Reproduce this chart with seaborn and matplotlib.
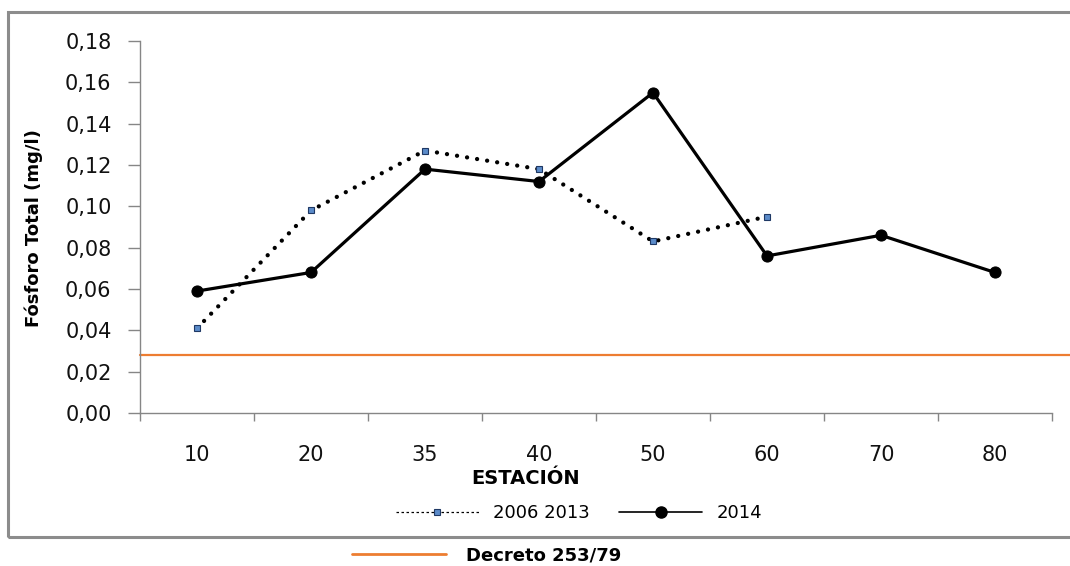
import numpy as np
import pandas as pd
import matplotlib
matplotlib.use("Agg")
import matplotlib.pyplot as plt
import seaborn as sns
from matplotlib.lines import Line2D
from matplotlib.patches import Rectangle
from matplotlib.ticker import FuncFormatter, FixedLocator

# ---- data ----
estaciones = ["10", "20", "35", "40", "50", "60", "70", "80"]
serie_2006_2013 = [0.041, 0.098, 0.127, 0.118, 0.083, 0.095, np.nan, np.nan]
serie_2014 = [0.059, 0.068, 0.118, 0.112, 0.155, 0.076, 0.086, 0.068]
decreto_253_79 = 0.028
y_ticks = [0.00, 0.02, 0.04, 0.06, 0.08, 0.10, 0.12, 0.14, 0.16, 0.18]

label_hist = "2006 2013"
label_2014 = "2014"
label_decreto = "Decreto 253/79"

sns.set_theme(style="white")
plt.rcParams["font.family"] = ["DejaVu Sans"]
plt.rcParams["text.color"] = "black"

fig = plt.figure(figsize=(10.70, 5.66), dpi=100)
ax = fig.add_axes([140/1070, 1-413/566, 912/1070, 372/566])

pos = np.arange(len(estaciones))
df = pd.DataFrame({"pos": pos, "hist": serie_2006_2013, "y2014": serie_2014})

gray = "#868686"

sns.lineplot(data=df.dropna(subset=["hist"]), x="pos", y="hist", ax=ax, color="black",
             linewidth=3.1, linestyle=(0, (0.01, 2.35)), dash_capstyle="round",
             marker="s", markersize=5, markerfacecolor="#5B8BC9",
             markeredgecolor="#1F3864", markeredgewidth=0.8, zorder=3)
sns.lineplot(data=df, x="pos", y="y2014", ax=ax, color="black", linewidth=2.3,
             marker="o", markersize=8, markerfacecolor="black",
             markeredgecolor="black", zorder=4)

ax.axhline(decreto_253_79, xmin=0, xmax=1.03, color="#ED7D31", linewidth=1.6,
           clip_on=False, zorder=2)

ax.set_xlim(-0.5, len(estaciones) - 0.5)
ax.set_ylim(0, 0.18)
ax.set_yticks(y_ticks)
ax.yaxis.set_major_formatter(FuncFormatter(lambda v, p: f"{v:.2f}".replace(".", ",")))
ax.set_xticks(pos)
ax.set_xticklabels(estaciones)
ax.xaxis.set_minor_locator(FixedLocator(np.arange(-0.5, len(estaciones), 1.0)))

for s in ["top", "right"]:
    ax.spines[s].set_visible(False)
for s in ["left", "bottom"]:
    ax.spines[s].set_color(gray)
    ax.spines[s].set_linewidth(1.0)

ax.tick_params(axis="y", which="major", direction="out", length=8.5, width=1,
               color=gray, pad=12, labelsize=15, labelcolor="#111111", left=True)
ax.tick_params(axis="x", which="major", length=0, pad=23, labelsize=15,
               labelcolor="#111111", bottom=True)
ax.tick_params(axis="x", which="minor", direction="out", length=6, width=1,
               color=gray, bottom=True)
ax.grid(False)

ax.set_xlabel("ESTACIÓN", fontweight="bold", fontsize=14, color="black")
ax.xaxis.set_label_coords((526-140)/912, (413-469)/372)
ax.set_ylabel("Fósforo Total (mg/l)", fontweight="bold", fontsize=13, color="black")
ax.yaxis.set_label_coords((43-140)/912, (413-228)/372)

# outer frame
fig.add_artist(Rectangle((8/1070, 1-537/566), 1.2, (537-12)/566, transform=fig.transFigure,
                         fill=False, edgecolor="#8C8C8C", linewidth=2.2, clip_on=True))

h1 = Line2D([], [], color="black", linewidth=0.9, linestyle=(0, (2, 2)),
            marker="s", markersize=5, markerfacecolor="#5B8BC9",
            markeredgecolor="#1F3864", markeredgewidth=0.8)
h2 = Line2D([], [], color="black", linewidth=1.2, marker="o", markersize=8)
fig.legend([h1, h2], [label_hist, label_2014], loc="center",
           bbox_to_anchor=(579/1070, 1-513/566), ncol=2, frameon=False,
           fontsize=13, handlelength=4.6, columnspacing=1.6, handletextpad=0.8)

h3 = Line2D([], [], color="#ED7D31", linewidth=2)
fig.legend([h3], [label_decreto], loc="center",
           bbox_to_anchor=(487/1070, 1-555/566), frameon=False,
           handlelength=5.2, handletextpad=1.1,
           prop={"weight": "bold", "size": 13})

fig.savefig("out.png", dpi=100)
